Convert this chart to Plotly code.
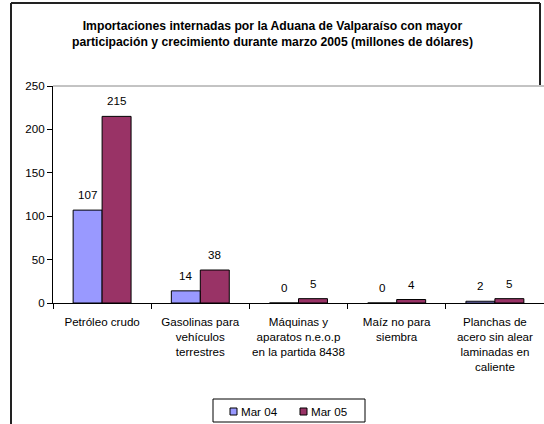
import plotly.graph_objects as go

categories = ["Petróleo crudo", "Gasolinas para<br>vehículos<br>terrestres",
              "Máquinas y<br>aparatos n.e.o.p<br>en la partida 8438",
              "Maíz no para<br>siembra", "Planchas de<br>acero sin alear<br>laminadas en<br>caliente"]
mar04 = [107, 14, 0, 0, 2]
mar05 = [215, 38, 5, 4, 5]
series_names = ["Mar 04", "Mar 05"]
colors = ["#9999FF", "#993366"]
yticks = [0, 50, 100, 150, 200, 250]

FONT = "Liberation Sans, Arial, sans-serif"
FS = 11.6
W, H = 544, 424
L, R, T, B = 53, 0, 86, 121
pw, ph = W - L - R, H - T - B

def px_x(px):
    return (px - L) / pw

def px_y(py):
    return (H - B - py) / ph

fig = go.Figure()
for name, vals, col in zip(series_names, [mar04, mar05], colors):
    fig.add_trace(go.Bar(x=categories, y=vals, name=name, showlegend=False,
                         marker=dict(color=col, line=dict(color="black", width=1))))

# value labels
for vals, shift in [(mar04, -14.5), (mar05, 14.5)]:
    for c, v in zip(categories, vals):
        fig.add_annotation(x=c, y=v, text=str(v), showarrow=False, xshift=shift,
                           yanchor="bottom", yshift=7,
                           font=dict(size=FS, family=FONT, color="black"))

fig.update_layout(
    width=W, height=H,
    margin=dict(l=L, r=R, t=T, b=B, autoexpand=False),
    paper_bgcolor="white", plot_bgcolor="white",
    font=dict(family=FONT, size=FS, color="black"),
    barmode="group", bargap=0.41, bargroupgap=0,
    showlegend=False,
)
fig.update_xaxes(type="category", range=[-0.5, 4.5], showline=True, linecolor="black", linewidth=1,
                 ticks="outside", tickson="boundaries", ticklen=5, tickcolor="black", tickangle=0,
                 showgrid=False, tickfont=dict(size=FS, family=FONT), ticklabelstandoff=8)
fig.update_yaxes(range=[0, 250], tickvals=yticks, showline=True, linecolor="black", linewidth=1,
                 ticks="outside", ticklen=5, tickcolor="black", showgrid=False, zeroline=False,
                 tickfont=dict(size=FS, family=FONT))

# plot-area top border (gray)
fig.add_shape(type="line", xref="paper", yref="paper", x0=0, x1=px_x(546), y0=1, y1=1,
              line=dict(color="#888888", width=1))
# outer chart border
fig.add_shape(type="line", xref="paper", yref="paper", x0=px_x(11), x1=px_x(11),
              y0=px_y(3), y1=px_y(430), line=dict(color="#222222", width=2))
fig.add_shape(type="line", xref="paper", yref="paper", x0=px_x(11), x1=px_x(540),
              y0=px_y(3), y1=px_y(3), line=dict(color="#222222", width=2))
fig.add_shape(type="line", xref="paper", yref="paper", x0=px_x(540), x1=px_x(540),
              y0=px_y(3), y1=px_y(85), line=dict(color="#222222", width=2))

# legend (drawn manually)
fig.add_shape(type="rect", xref="paper", yref="paper", x0=px_x(213), x1=px_x(365),
              y0=px_y(399), y1=px_y(422), line=dict(color="black", width=1), fillcolor="white")
for name, col, sx in zip(series_names, colors, [230, 300]):
    fig.add_shape(type="rect", xref="paper", yref="paper", x0=px_x(sx), x1=px_x(sx + 7),
                  y0=px_y(408), y1=px_y(415), line=dict(color="black", width=1), fillcolor=col)
    fig.add_annotation(xref="paper", yref="paper", x=px_x(sx + 8.5), y=px_y(411.5),
                       xanchor="left", yanchor="middle", text=name, showarrow=False,
                       font=dict(size=FS, family=FONT, color="black"))

fig.add_annotation(xref="paper", yref="paper", x=px_x(272), y=px_y(34), xanchor="center", yanchor="middle",
                   text="<b>Importaciones internadas por la Aduana de Valparaíso con mayor<br>"
                        "participación y crecimiento durante marzo 2005 (millones de dólares)</b>",
                   showarrow=False, font=dict(size=12.2, family=FONT, color="black"))

fig.write_html("out.html", config={"displayModeBar": False},
               post_script="document.body.style.margin='0';document.body.style.overflow='hidden';")
